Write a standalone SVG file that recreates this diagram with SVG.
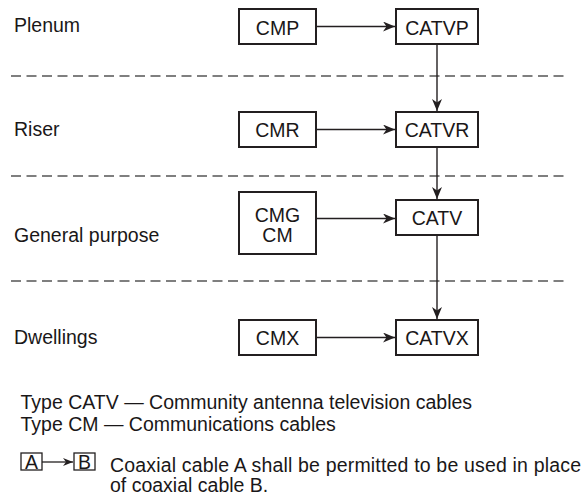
<svg xmlns="http://www.w3.org/2000/svg" width="587" height="497" viewBox="0 0 587 497">
  <defs>
    <marker id="arr" markerUnits="userSpaceOnUse" markerWidth="12" markerHeight="10" refX="12" refY="5" orient="auto" viewBox="0 0 12 10">
      <path d="M0,0 L12,5 L0,10 L3.5,5 Z" fill="#231f20"/>
    </marker>
    <marker id="arrs" markerUnits="userSpaceOnUse" markerWidth="10" markerHeight="8" refX="10" refY="4" orient="auto" viewBox="0 0 10 8">
      <path d="M0,0 L10,4 L0,8 L3,4 Z" fill="#231f20"/>
    </marker>
  </defs>
  <style>
    text { font-family: "Liberation Sans", Arial, sans-serif; font-size: 19.5px; fill: #1a1718; }
    .box { fill: #fff; stroke: #231f20; stroke-width: 2; }
    .sbox { fill: #fff; stroke: #231f20; stroke-width: 1.3; }
    .c { text-anchor: middle; }
    .con { stroke: #231f20; stroke-width: 1.4; fill: none; marker-end: url(#arr); }
    .dash { stroke: #555; stroke-width: 1.4; stroke-dasharray: 10 5.5; fill: none; }
  </style>
  <rect width="587" height="497" fill="#fff"/>

  <g id="zones">
    <line class="dash" x1="11" y1="76" x2="567" y2="76"/>
    <line class="dash" x1="11" y1="176" x2="567" y2="176"/>
    <line class="dash" x1="11" y1="281" x2="567" y2="281"/>
    <text x="14" y="32">Plenum</text>
    <text x="14" y="136">Riser</text>
    <text x="14" y="242">General purpose</text>
    <text x="14" y="343.5">Dwellings</text>
  </g>

  <g id="connectors">
    <line class="con" x1="316" y1="26.5" x2="395" y2="26.5"/>
    <line class="con" x1="316" y1="129.5" x2="395" y2="129.5"/>
    <line class="con" x1="316" y1="218.5" x2="395" y2="218.5"/>
    <line class="con" x1="316" y1="337.5" x2="395" y2="337.5"/>
    <line class="con" x1="437" y1="44" x2="437" y2="111"/>
    <line class="con" x1="437" y1="147" x2="437" y2="199"/>
    <line class="con" x1="437" y1="235" x2="437" y2="319"/>
  </g>

  <g id="CMP"><rect class="box" x="239" y="9" width="77" height="35"/><text class="c" x="277.5" y="34.5">CMP</text></g>
  <g id="CATVP"><rect class="box" x="396" y="9" width="82" height="35"/><text class="c" x="437" y="34.5">CATVP</text></g>
  <g id="CMR"><rect class="box" x="239" y="112" width="77" height="35"/><text class="c" x="277.5" y="137">CMR</text></g>
  <g id="CATVR"><rect class="box" x="396" y="112" width="82" height="35"/><text class="c" x="437" y="137">CATVR</text></g>
  <g id="CMG"><rect class="box" x="239" y="192" width="77" height="62"/><text class="c" x="277.5" y="222">CMG</text><text class="c" x="277.5" y="242">CM</text></g>
  <g id="CATV"><rect class="box" x="396" y="200" width="82" height="35"/><text class="c" x="437" y="225">CATV</text></g>
  <g id="CMX"><rect class="box" x="239" y="320" width="77" height="35"/><text class="c" x="277.5" y="345">CMX</text></g>
  <g id="CATVX"><rect class="box" x="396" y="320" width="82" height="35"/><text class="c" x="437" y="345">CATVX</text></g>

  <g id="legend">
    <text x="20.5" y="409">Type CATV — Community antenna television cables</text>
    <text x="20.5" y="431">Type CM — Communications cables</text>
    <rect class="sbox" x="21" y="453" width="21" height="17"/>
    <text class="c" x="31.5" y="469">A</text>
    <line x1="42" y1="462" x2="73" y2="462" stroke="#231f20" stroke-width="1.3" marker-end="url(#arrs)"/>
    <rect class="sbox" x="74" y="453" width="21" height="17"/>
    <text class="c" x="84.5" y="469">B</text>
    <text x="110" y="471.5" textLength="471" lengthAdjust="spacing">Coaxial cable A shall be permitted to be used in place</text>
    <text x="110" y="492">of coaxial cable B.</text>
  </g>
</svg>
